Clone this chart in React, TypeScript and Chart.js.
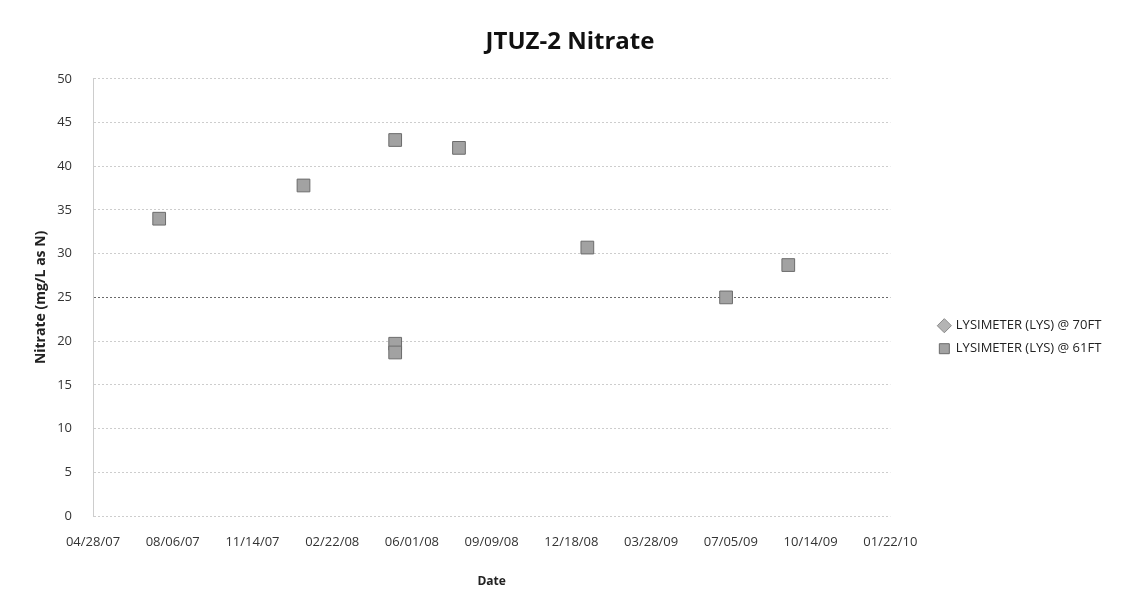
import React, { useEffect, useRef } from 'react';
import { Chart, registerables } from 'chart.js';

Chart.register(...registerables);

const DAY_MS = 86400000;

// ---- data ----
const chartTitle = 'JTUZ-2 Nitrate';
const yAxisTitle = 'Nitrate (mg/L as N)';
const xAxisTitle = 'Date';

const xAxisStart = '2007-04-28';
const xAxisEnd = '2010-01-22';
const xTickStepDays = 100;
const xTickLabels = [
  '04/28/07',
  '08/06/07',
  '11/14/07',
  '02/22/08',
  '06/01/08',
  '09/09/08',
  '12/18/08',
  '03/28/09',
  '07/05/09',
  '10/14/09',
  '01/22/10',
];

const yMin = 0;
const yMax = 50;
const yStep = 5;

const series70Label = 'LYSIMETER (LYS) @ 70FT';
const series70Dates: string[] = [];
const series70Values: number[] = [];

const series61Label = 'LYSIMETER (LYS) @ 61FT';
const series61Dates = [
  '2007-07-20',
  '2008-01-17',
  '2008-05-11',
  '2008-05-11',
  '2008-05-11',
  '2008-07-30',
  '2009-01-07',
  '2009-06-30',
  '2009-09-16',
];
const series61Values = [34, 37.8, 43, 19.7, 18.7, 42.1, 30.7, 25, 28.7];

// ---- helpers ----
const toMs = (s: string) => {
  const [y, m, d] = s.split('-').map(Number);
  return Date.UTC(y, m - 1, d);
};
const toPoints = (dates: string[], vals: number[]) =>
  dates.map((d, i) => ({ x: toMs(d), y: vals[i] }));

const FONT = '"Open Sans", "DejaVu Sans", sans-serif';

export default function App() {
  const ref = useRef<HTMLCanvasElement | null>(null);

  useEffect(() => {
    document.body.style.margin = '0';
    const canvas = ref.current;
    if (!canvas) return;
    const startMs = toMs(xAxisStart);
    const stepMs = xTickStepDays * DAY_MS;
    const chart = new Chart(canvas, {
      type: 'scatter',
      data: {
        datasets: [
          {
            label: series70Label,
            data: toPoints(series70Dates, series70Values),
            pointStyle: 'rectRot',
            pointRadius: 7,
            backgroundColor: '#b4b4b4',
            borderColor: '#8a8a8a',
            borderWidth: 1,
          },
          {
            label: series61Label,
            data: toPoints(series61Dates, series61Values),
            pointStyle: 'rect',
            pointRadius: 9,
            backgroundColor: '#a2a2a2',
            borderColor: '#6c6c6c',
            borderWidth: 1,
          },
        ],
      },
      options: {
        animation: false,
        responsive: false,
        layout: { padding: { left: 31, right: 31, top: 0, bottom: 0 } },
        plugins: {
          title: {
            display: true,
            text: chartTitle,
            color: '#111',
            font: { family: FONT, size: 24, weight: 'bold' },
            padding: { top: 28, bottom: 22 },
          },
          legend: {
            display: true,
            position: 'right',
            align: 'center',
            title: {
              display: true,
              text: '',
              font: { family: FONT, size: 12 },
              padding: { top: 53, bottom: 0 },
            },
            labels: {
              usePointStyle: true,
              boxWidth: 10,
              boxHeight: 10,
              padding: 10,
              color: '#222',
              font: { family: FONT, size: 13 },
            },
          },
          tooltip: { enabled: false },
        },
        scales: {
          x: {
            type: 'linear',
            min: startMs,
            max: toMs(xAxisEnd),
            afterFit: (s: any) => {
              s.height = 91;
            },
            ticks: {
              stepSize: stepMs,
              autoSkip: false,
              maxRotation: 0,
              padding: 18,
              color: '#333',
              font: { family: FONT, size: 13 },
              callback: (v: any) => {
                const i = Math.round((Number(v) - startMs) / stepMs);
                return xTickLabels[i] ?? '';
              },
            },
            grid: { display: false, drawTicks: false },
            border: { display: false },
            title: {
              display: true,
              text: xAxisTitle,
              color: '#222',
              font: { family: FONT, size: 12, weight: 'bold' },
              padding: { top: 0, bottom: 18 },
            },
          },
          y: {
            min: yMin,
            max: yMax,
            afterFit: (s: any) => {
              s.width = 62;
            },
            ticks: {
              stepSize: yStep,
              padding: 21,
              color: '#333',
              font: { family: FONT, size: 13 },
            },
            grid: {
              drawTicks: false,
              color: (c: any) => (c.tick && c.tick.value === 25 ? '#6a6a6a' : '#cdcdcd'),
              lineWidth: 1,
            },
            border: { display: true, color: '#cdcdcd', dash: [2, 2] },
            title: {
              display: true,
              text: yAxisTitle,
              color: '#222',
              font: { family: FONT, size: 14, weight: 'bold' },
              padding: { top: 2, bottom: 0 },
            },
          },
          gap: {
            type: 'linear',
            position: 'right',
            display: true,
            afterFit: (s: any) => {
              s.width = 39;
            },
            ticks: { display: false },
            grid: { display: false, drawTicks: false },
            border: { display: false },
          },
        },
      } as any,
    });
    return () => chart.destroy();
  }, []);

  return (
    <div style={{ width: 1140, height: 607, background: '#fff' }}>
      <canvas ref={ref} width={1140} height={607} style={{ display: 'block' }} />
    </div>
  );
}
